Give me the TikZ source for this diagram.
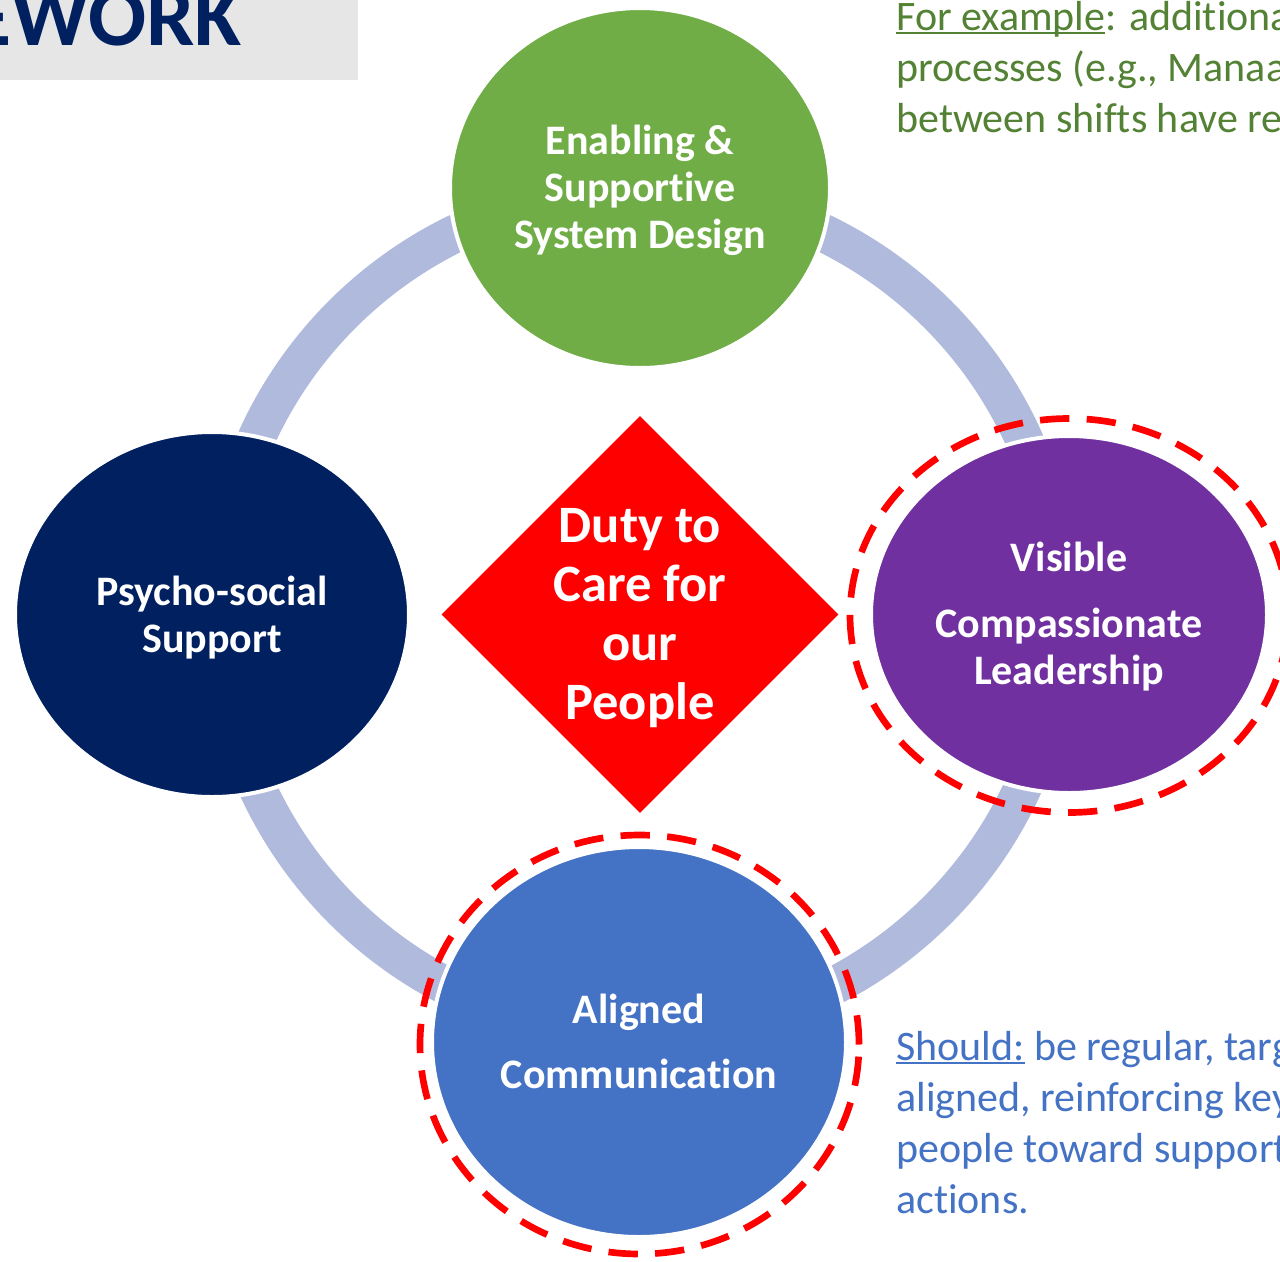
\documentclass[tikz,border=0pt]{standalone}
\usepackage{fontspec}
\setmainfont{Carlito}[Ligatures={NoCommon,NoContextual,NoRare}, RawFeature={-liga;-clig;-calt;-dlig;-hlig}]
\usetikzlibrary{shapes.geometric}
\definecolor{ringc}{RGB}{175,186,221}
\definecolor{greenc}{RGB}{112,173,71}
\definecolor{navyc}{RGB}{0,32,96}
\definecolor{purplec}{RGB}{112,48,160}
\definecolor{bluec}{RGB}{68,114,196}
\definecolor{redc}{RGB}{255,0,0}
\definecolor{titlegray}{RGB}{230,230,230}
\definecolor{gtext}{RGB}{84,130,53}
\definecolor{btext}{RGB}{68,114,196}
\newcommand\ulx[1]{\setbox0=\hbox{#1}\rlap{\rule[-3.2pt]{\wd0}{1.9pt}}\box0\relax}
\newcommand\ti{t\kern0pt i}
\begin{document}
\begin{tikzpicture}[x=0.75pt,y=-0.75pt,
  blob/.style={ellipse, draw=white, line width=3pt, inner sep=0pt},
  ctext/.style={text=white, font=\bfseries\fontsize{31.5}{35.25}\selectfont, align=center, inner sep=0pt},
  dtext/.style={text=white, font=\bfseries\fontsize{39.4}{44.25}\selectfont, align=center, inner sep=0pt},
  dashring/.style={ellipse, draw=redc, line width=5pt, dash pattern=on 22pt off 13pt, inner sep=0pt},
  side/.style={anchor=base west, inner sep=0pt, font=\fontsize{31.5}{38}\selectfont}
]
\useasboundingbox (0,0) rectangle (1280,1261);
\fill[white] (0,0) rectangle (1280,1261);
\begin{scope}
\clip (0,0) rectangle (1280,1261);
% title
\fill[titlegray] (0,0) rectangle (358,80);
\node[anchor=base east, inner sep=0pt, font=\bfseries\fontsize{64.5}{70}\selectfont, text=navyc] (title) at (242,45) {EWORK};
% ring
\node[circle, draw=ringc, line width=28.5pt, minimum size=631.5pt, inner sep=0pt] (ring) at (640,612) {};
% circles
\node[blob, fill=greenc, minimum width=285pt, minimum height=270pt] (enab) at (640,188) {};
\node[blob, fill=navyc, minimum width=295.5pt, minimum height=273.75pt] (psy) at (212,614.5) {};
\node[blob, fill=purplec, minimum width=297pt, minimum height=267.75pt] (vis) at (1069,614.5) {};
\node[blob, fill=bluec, minimum width=310.5pt, minimum height=292.5pt] (ali) at (639,1042) {};
% dashed highlights
\node[dashring, minimum width=328.5pt, minimum height=295.5pt] (visd) at (1069,615.5) {};
\node[dashring, minimum width=329.25pt, minimum height=314.25pt] (alid) at (639.5,1044.5) {};
% diamond
\node[diamond, fill=redc, minimum width=297.75pt, minimum height=297.75pt, inner sep=0pt] (duty) at (640,614.5) {};
% texts
\node[ctext] (enabt) at ([yshift=-1.5pt]enab.center) {Enabling \&\\Suppor\ti ve\\System Design};
\node[ctext] (psyt) at ([yshift=-2pt]psy.center) {Psycho-social\\Support};
\node[ctext] (vist) at ([yshift=-1.5pt]vis.center) {Visible\\[14pt]Compassionate\\Leadership};
\node[ctext] (alit) at ([yshift=0.4pt]ali.center) {Aligned\\[14pt]Communica\ti on};
\node[dtext] (dutyt) at ([yshift=-3pt]duty.center) {Duty to\\Care for\\our\\People};
% side notes
\node[side, text=gtext] (g1) at (896,30) {\ulx{For example}: addi\ti ona};
\node[side, text=gtext] (g2) at (896,81) {processes (e.g., Manaa};
\node[side, text=gtext] (g3) at (896,132) {between shifts have re};
\node[side, text=btext] (b1) at (896,1060) {\ulx{Should:} be regular, targ};
\node[side, text=btext] (b2) at (896,1111) {aligned, reinforcing key};
\node[side, text=btext] (b3) at (896,1162) {people toward support};
\node[side, text=btext] (b4) at (896,1213) {actions.};
\end{scope}
\end{tikzpicture}
\end{document}
